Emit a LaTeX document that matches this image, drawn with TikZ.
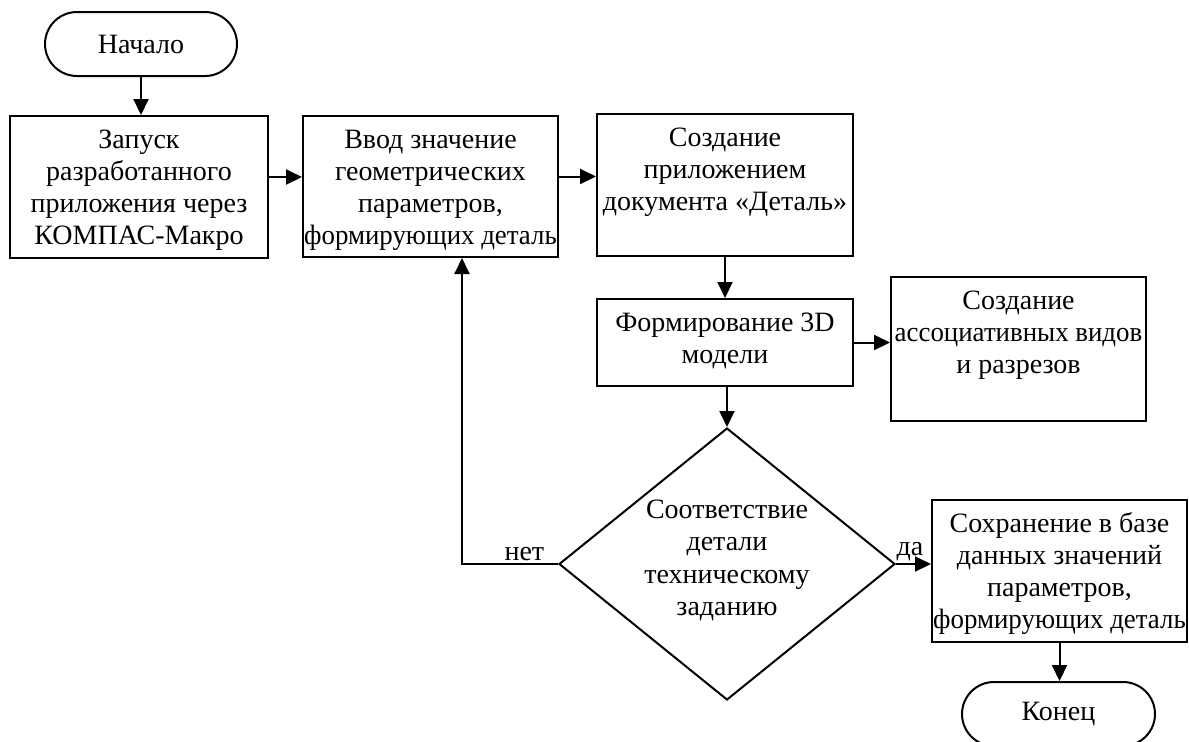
\documentclass[tikz,border=0pt]{standalone}
\usepackage{fontspec}
\setmainfont{Liberation Serif}
\usepackage{tikz}
\usetikzlibrary{shapes.geometric, arrows.meta}
\tikzstyle{startstop} = [rectangle, rounded corners=16pt, minimum width=96pt, minimum height=32pt, text centered, draw=black, line width=1pt]
\tikzstyle{process} = [rectangle, inner sep=0pt, draw=black, line width=1pt]
\tikzstyle{decision} = [diamond, inner sep=0pt, minimum width=168pt, minimum height=136pt, draw=black, line width=1pt]
\tikzstyle{arrow} = [line width=1pt, -{Triangle[length=8pt,width=7.5pt]}]
% text at the top of a box of width #1 and height #2
\newcommand{\boxtext}[3]{\parbox[c][#2][t]{#1}{\centering\rule{0pt}{16pt}#3}}
\newcommand{\wideline}[1]{\makebox[\linewidth]{\scalebox{0.96}[1]{#1}}}

\begin{document}
\begin{tikzpicture}[x=0.5pt, y=-0.5pt, font=\fontsize{14}{16.1}\selectfont]
   \useasboundingbox (0,0) rectangle (1189,741);
   \node (start) [startstop] at (141,44) {Начало};
   \node (launch) [process] at (139,187) {\boxtext{129pt}{71pt}{Запуск\\ разработанного\\ приложения~через\\ КОМПАС-Макро}};
   \node (input) [process] at (430.5,186.5) {\boxtext{127.5pt}{70.5pt}{Ввод значение\\ геометрических\\ параметров,\\ \wideline{формирующих деталь}}};
   \node (doc) [process] at (725,185) {\boxtext{128pt}{71pt}{Создание\\ приложением\\ документа~«Деталь»}};
   \node (model) [process] at (725,342.5) {\boxtext{128pt}{43.5pt}{Формирование~3D\\ модели}};
   \node (views) [process] at (1018.5,349) {\boxtext{127.5pt}{72pt}{Создание\\ \wideline{ассоциативных видов}\\ и разрезов}};
   \node (check) [decision] at (727,564) {\raisebox{-1.5pt}{\parbox[c][0pt][c]{120pt}{\centering Соответствие\\ детали\\ техническому\\ заданию}}};
   \node (save) [process] at (1059.5,571) {\boxtext{127.5pt}{71pt}{Сохранение~в~базе\\ данных значений\\ параметров,\\ \wideline{формирующих деталь}}};
   \node (stop) [startstop, minimum width=96.5pt] at (1058.5,714) {Конец};
   \coordinate (back) at (462,564);
   \draw [arrow] (start) -- (start |- launch.north);
   \draw [arrow] ([yshift=5pt]launch.east) -- ([yshift=5pt]launch.east -| input.west);
   \draw [arrow] ([yshift=5pt]input.east) -- ([yshift=5pt]input.east -| doc.west);
   \draw [arrow] (doc) -- (model);
   \draw [arrow] (model.east) -- (model.east -| views.west);
   \draw [arrow] (check.north |- model.south) -- (check.north);
   \draw [arrow] (check.west) -- node[above, pos=0.35, inner sep=1pt] {нет} (back) -- (back |- input.south);
   \draw [arrow] (check.east) -- node[above, pos=0.4, inner sep=1pt] {да} (check.east -| save.west);
   \draw [arrow] (save.south) -- (save.south |- stop.north);
\end{tikzpicture}
\end{document}
